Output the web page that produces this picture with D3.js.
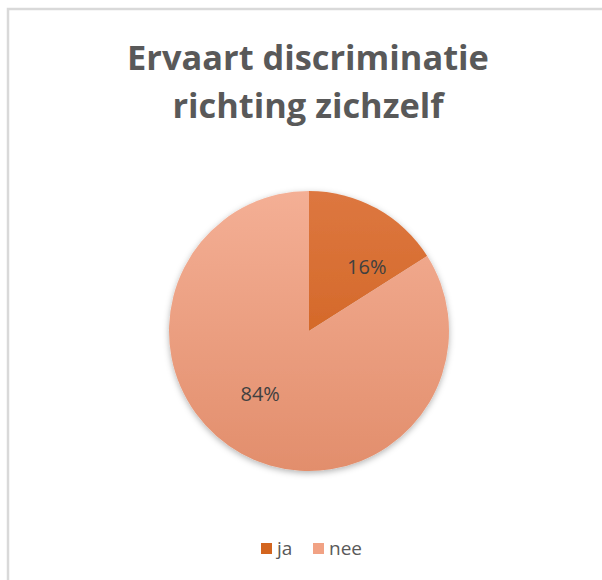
<!DOCTYPE html>
<html>
<head>
<meta charset="utf-8">
<script src="https://cdn.jsdelivr.net/npm/d3@7"></script>
<style>
  body { margin: 0; background: #fff; }
  svg { display: block; }
</style>
</head>
<body>
<div id="chart"></div>
<script>
// data
const categories = ['ja', 'nee'];
const values = [16, 84];
const titleLines = ['Ervaart discriminatie', 'richting zichzelf'];

// colours (top, bottom of gradient)
const colorTop = {ja: '#dd7740', nee: '#f4af95'};
const colorBottom = {ja: '#cc5c14', nee: '#e28e6c'};
const legendColor = {ja: '#d3651f', nee: '#f1a284'};

const width = 602, height = 580;
const cx = 309, cy = 331, r = 140;

const svg = d3.select('#chart')
  .append('svg')
  .attr('width', width)
  .attr('height', height);

// frame (only top/left visible in the reference)
svg.append('path')
  .attr('d', `M8,${height} L8,9 L${width},9`)
  .attr('fill', 'none')
  .attr('stroke', '#d9d9d9')
  .attr('stroke-width', 2.5);

const defs = svg.append('defs');
categories.forEach(c => {
  const g = defs.append('linearGradient')
    .attr('id', 'grad-' + c)
    .attr('gradientUnits', 'userSpaceOnUse')
    .attr('x1', 0).attr('x2', 0)
    .attr('y1', -r).attr('y2', r);
  g.append('stop').attr('offset', '0%').attr('stop-color', colorTop[c]);
  g.append('stop').attr('offset', '100%').attr('stop-color', colorBottom[c]);
});
const shadow = defs.append('filter').attr('id', 'shadow')
  .attr('x', '-20%').attr('y', '-20%').attr('width', '140%').attr('height', '140%');
shadow.append('feDropShadow')
  .attr('dx', 0).attr('dy', 2).attr('stdDeviation', 3)
  .attr('flood-color', '#000').attr('flood-opacity', 0.3);

// title - size it so the first line is ~362px wide like the reference
const title = svg.append('text')
  .attr('text-anchor', 'middle')
  .style('font-family', '"Open Sans", Lato, sans-serif')
  .style('font-weight', 'bold')
  .style('font-size', '34px')
  .style('fill', '#595959');
title.selectAll('tspan')
  .data(titleLines)
  .enter()
  .append('tspan')
  .attr('x', 308)
  .attr('y', (d, i) => 70 + i * 48)
  .text(d => d);
const firstLen = title.select('tspan').node().getComputedTextLength();
title.style('font-size', (34 * 362 / firstLen) + 'px');

// pie
const pie = d3.pie().sort(null).value(d => d.value);
const arcs = pie(categories.map((c, i) => ({cat: c, value: values[i]})));
const arc = d3.arc().innerRadius(0).outerRadius(r);
const labelArc = d3.arc().innerRadius(r * 0.62).outerRadius(r * 0.62);
const labelNudge = [[16, 12], [-7, -13]];

const plot = svg.append('g')
  .attr('transform', `translate(${cx},${cy})`);

plot.append('g')
  .attr('filter', 'url(#shadow)')
  .selectAll('path')
  .data(arcs)
  .enter()
  .append('path')
  .attr('d', arc)
  .attr('fill', d => `url(#grad-${d.data.cat})`);

plot.selectAll('.label')
  .data(arcs)
  .enter()
  .append('text')
  .attr('class', 'label')
  .attr('transform', (d, i) => {
    const c = labelArc.centroid(d);
    return `translate(${c[0] + labelNudge[i][0]},${c[1] + labelNudge[i][1]})`;
  })
  .attr('dy', '0.35em')
  .attr('text-anchor', 'middle')
  .style('font-family', '"Open Sans", Lato, sans-serif')
  .style('font-size', '20px')
  .style('fill', '#404040')
  .text(d => d.data.value + '%');

// legend
const legend = svg.append('g')
  .style('font-family', '"Open Sans", Lato, sans-serif')
  .style('font-size', '19px')
  .style('fill', '#595959');
const legendX = [261, 313];
const items = legend.selectAll('g')
  .data(categories)
  .enter()
  .append('g')
  .attr('transform', (d, i) => `translate(${legendX[i]},543)`);
items.append('rect')
  .attr('width', 11).attr('height', 11)
  .attr('fill', d => legendColor[d]);
items.append('text')
  .attr('x', 16).attr('y', 12)
  .text(d => d);
</script>
</body>
</html>
